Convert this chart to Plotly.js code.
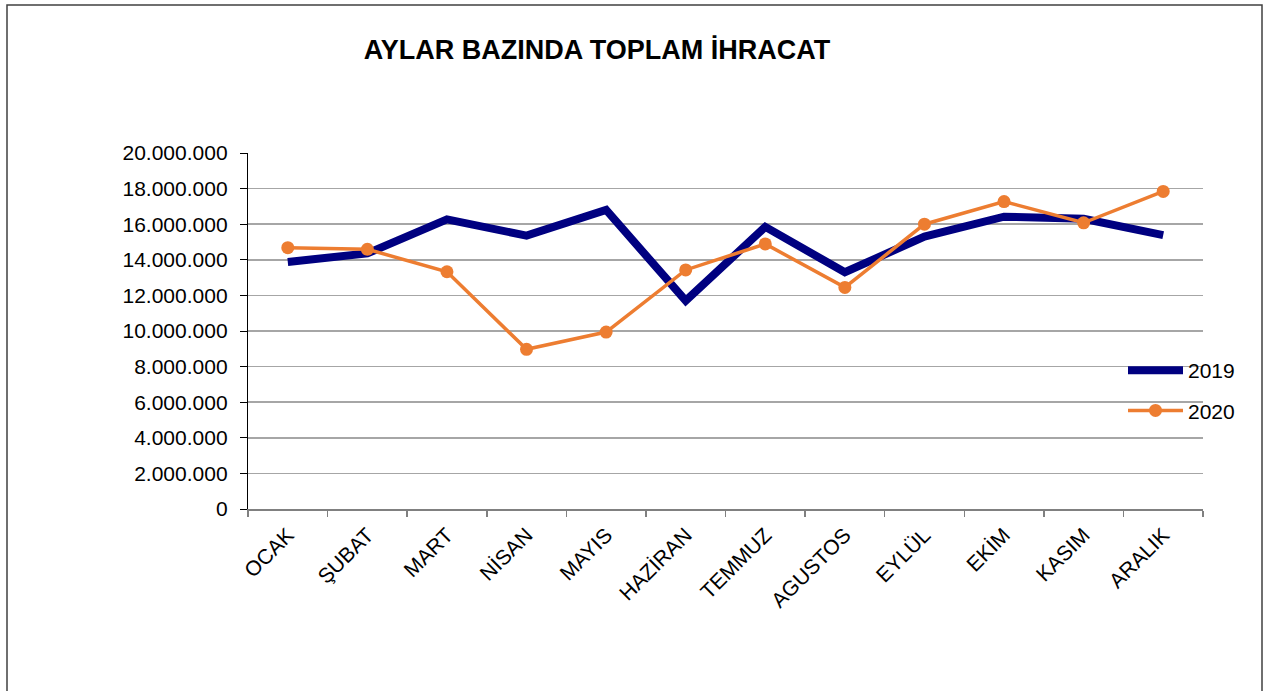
<!DOCTYPE html>
<html>
<head>
<meta charset="utf-8">
<script src="https://cdn.plot.ly/plotly-3.0.1.min.js"></script>
<style>html,body{margin:0;padding:0;background:#fff;}#chart{width:1266px;height:691px;}</style>
</head>
<body>
<div id="chart"></div>
<script>
const months = ["OCAK","ŞUBAT","MART","NİSAN","MAYIS","HAZİRAN","TEMMUZ","AGUSTOS","EYLÜL","EKİM","KASIM","ARALIK"];
const exports2019 = [13880000,14360000,16270000,15360000,16800000,11700000,15850000,13300000,15300000,16420000,16300000,15390000];
const exports2020 = [14680000,14590000,13330000,8970000,9940000,13430000,14890000,12450000,16000000,17270000,16080000,17840000];
const titleText = "AYLAR BAZINDA TOPLAM İHRACAT";

const W = 1266, H = 691;
const L = 248, R = 1203, T = 153, B = 509;
const pw = R - L, ph = B - T;
const px = v => (v - L) / pw;
const py = v => (B - v) / ph;

const traces = [
  {x: months, y: exports2019, name: "2019", type: "scatter", mode: "lines",
   line: {color: "#000080", width: 8}, legendgroup: "a"},
  {x: months, y: exports2020, name: "2020", type: "scatter", mode: "lines+markers",
   line: {color: "#ED7D31", width: 3.5}, marker: {color: "#ED7D31", size: 13}, legendgroup: "b"}
];

const layout = {
  width: W, height: H,
  margin: {l: L, r: W - R, t: T, b: H - B, pad: 0},
  paper_bgcolor: "#fff", plot_bgcolor: "rgba(0,0,0,0)",
  separators: ",.",
  font: {family: "Liberation Sans, Arial, sans-serif", size: 21, color: "#000"},
  title: {text: "<b>" + titleText + "</b>", font: {size: 27, color: "#000"},
          xref: "container", yref: "container", x: 597 / W, xanchor: "center",
          y: 1 - 50 / H, yanchor: "middle"},
  showlegend: true,
  legend: {x: px(1123), xanchor: "left", y: py(350), yanchor: "top",
           bgcolor: "rgba(0,0,0,0)", font: {size: 21}, tracegroupgap: 10,
           traceorder: "grouped", itemwidth: 55},
  xaxis: {type: "category", range: [-0.5, 11.5], showgrid: false, tickson: "boundaries",
          ticks: "outside", ticklen: 6, tickcolor: "#808080", tickwidth: 1.5,
          showline: true, linecolor: "#808080", linewidth: 1.5, ticklabelstandoff: 4,
          tickangle: -45, tickfont: {size: 21}, automargin: false, fixedrange: true},
  yaxis: {range: [0, 20000000], tick0: 0, dtick: 2000000, tickformat: ",d",
          showgrid: true, gridcolor: "#A6A6A6", gridwidth: 1.5,
          ticks: "outside", ticklen: 7, tickcolor: "#000", tickwidth: 1,
          showline: true, linecolor: "#000", linewidth: 1.2, ticklabelstandoff: 8,
          zeroline: false, tickfont: {size: 21}, automargin: false, fixedrange: true},
  shapes: [
    {type: "rect", xref: "paper", yref: "paper",
     x0: px(7), x1: px(1262), y0: py(700), y1: py(5),
     line: {color: "#404040", width: 1.5}, fillcolor: "rgba(0,0,0,0)", layer: "below"}
  ]
};

Plotly.newPlot("chart", traces, layout, {displayModeBar: false, staticPlot: true});
</script>
</body>
</html>
